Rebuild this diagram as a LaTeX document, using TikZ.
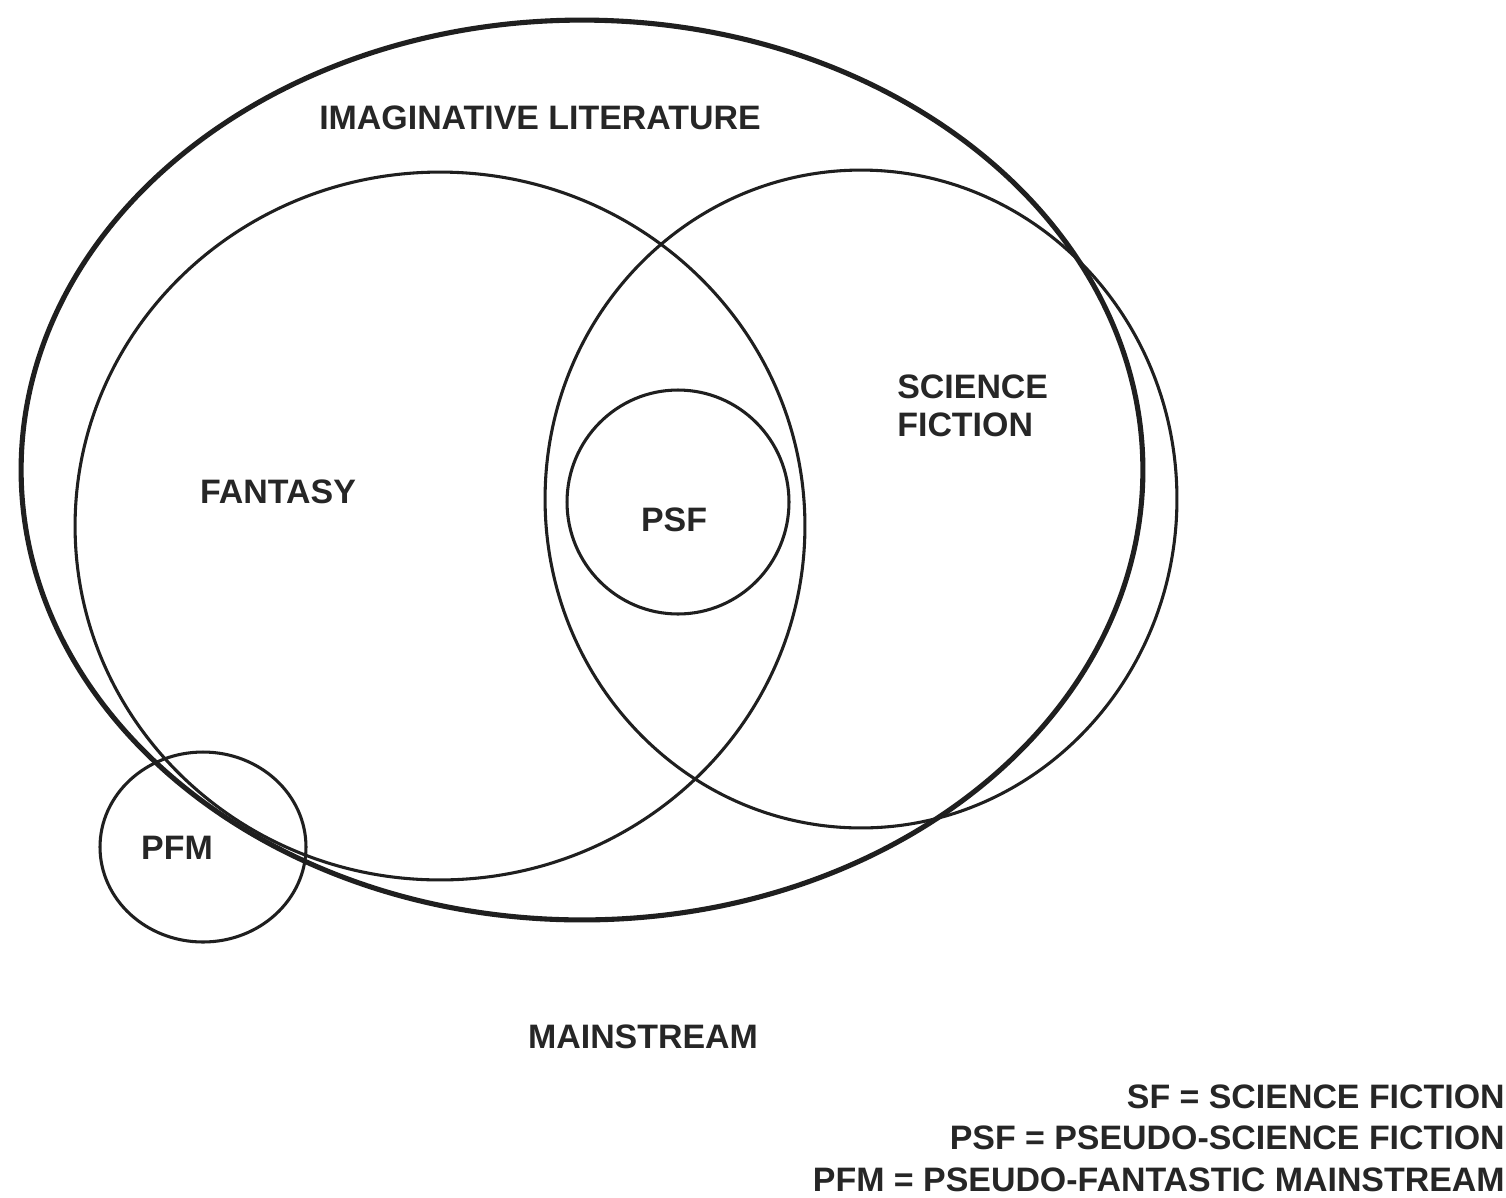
\documentclass[tikz,border=0pt]{standalone}
\usepackage{fontspec}
\setmainfont{Liberation Sans}
\begin{document}
\begin{tikzpicture}[x=0.02cm,y=-0.02cm,
  thin ring/.style={draw=black!88, line width=1.75pt},
  thick ring/.style={draw=black!88, line width=2.9pt},
  lbl/.style={inner sep=0pt, font=\fontsize{19.3pt}{21.5pt}\selectfont\bfseries, text=black!85},
  legend/.style={inner sep=0pt, anchor=east, font=\fontsize{19.3pt}{23pt}\selectfont\bfseries, text=black!85}]
\useasboundingbox (0,0) rectangle (1506,1197);
\fill[white] (0,0) rectangle (1506,1197);
% centres
\coordinate (cIL) at (582,470);
\coordinate (cFan) at (440,526);
\coordinate (cSF) at (861,499);
\coordinate (cPSF) at (678,502);
\coordinate (cPFM) at (203,847);
% shapes
\draw[thick ring] (cIL) ellipse [x radius=11.22cm, y radius=9.0cm];
\draw[thin ring] (cFan) ellipse [x radius=7.3cm, y radius=7.08cm];
\draw[thin ring] (cSF) ellipse [x radius=6.32cm, y radius=6.58cm];
\draw[thin ring] (cPSF) ellipse [x radius=2.22cm, y radius=2.24cm];
\draw[thin ring] (cPFM) ellipse [x radius=2.06cm, y radius=1.90cm];
% labels
\node[lbl] (il) at (540,118) {IMAGINATIVE LITERATURE};
\node[lbl] (fan) at (278,492) {FANTASY};
\node[lbl] (psf) at (674,520) {PSF};
\node[lbl, anchor=west, align=left] (sf) at (897,406) {SCIENCE\\FICTION};
\node[lbl] (pfm) at (177,848) {PFM};
\node[lbl] (ms) at (643,1037) {MAINSTREAM};
\node[legend] (l1) at (1505,1097) {SF = SCIENCE FICTION};
\node[legend] (l2) at (1505,1138) {PSF = PSEUDO-SCIENCE FICTION};
\node[legend] (l3) at (1505,1180) {PFM = PSEUDO-FANTASTIC MAINSTREAM};
\end{tikzpicture}
\end{document}
